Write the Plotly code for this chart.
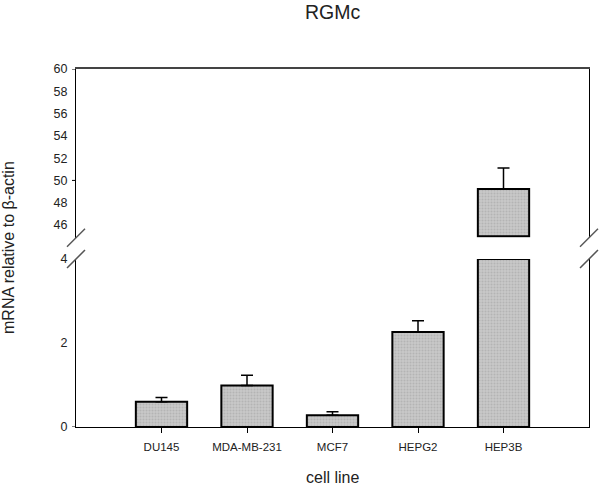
import plotly.graph_objects as go

# ---- data ----
cell_lines = ["DU145", "MDA-MB-231", "MCF7", "HEPG2", "HEP3B"]
mrna = [0.60, 0.99, 0.28, 2.26, 49.23]
sem = [0.10, 0.24, 0.085, 0.27, 1.88]

low_ticks = [0, 2, 4]
high_ticks = [46, 48, 50, 52, 54, 56, 58, 60]
low_marked_ticks = [0]
high_marked_ticks = [50, 60]
LOW_MAX = 4
HIGH_MIN = 45
HIGH_MAX = 60

# ---- derived split of the data across the broken axis ----
y_low = [min(v, LOW_MAX) for v in mrna]
err_low = [e if v <= LOW_MAX else 0 for v, e in zip(mrna, sem)]
y_high = [v - HIGH_MIN if v > HIGH_MIN else None for v in mrna]
err_high = [e if v > HIGH_MIN else 0 for v, e in zip(mrna, sem)]

FONT = "Liberation Sans, Arial, sans-serif"
W, H = 600, 486
ML, MR, MT, MB = 76, 11, 69, 59
PW, PH = W - ML - MR, H - MT - MB

low_dom = [0, 168 / PH]
high_dom = [(PH - 168.8) / PH, 1]

bar_style = dict(
    color="#c4c4c4",
    line=dict(color="black", width=2),
    pattern=dict(shape=".", fgcolor="#a0a0a0", bgcolor="#c8c8c8", size=3, solidity=0.35),
)

fig = go.Figure()
fig.add_trace(go.Bar(
    x=cell_lines, y=y_low, width=0.6, marker=bar_style,
    error_y=dict(type="data", array=err_low, arrayminus=[0] * len(err_low), symmetric=False,
                 color="black", thickness=1.5, width=6),
    xaxis="x", yaxis="y", showlegend=False,
))
fig.add_trace(go.Bar(
    x=cell_lines, y=y_high, base=HIGH_MIN, width=0.6, marker=bar_style,
    error_y=dict(type="data", array=err_high, arrayminus=[0] * len(err_high), symmetric=False,
                 color="black", thickness=1.5, width=6),
    xaxis="x2", yaxis="y2", showlegend=False,
))

axis_font = dict(family=FONT, size=12.5, color="#222")

fig.update_layout(
    width=W, height=H,
    margin=dict(l=ML, r=MR, t=MT, b=MB),
    paper_bgcolor="white", plot_bgcolor="white",
    font=dict(family=FONT, color="#222"),
    bargap=0.4,
    xaxis=dict(
        type="category", range=[-1, len(cell_lines)], anchor="y",
        showline=True, linecolor="black", linewidth=1,
        ticks="outside", ticklen=5, tickcolor="black", tickwidth=1,
        ticklabelstandoff=4,
        tickfont=dict(family=FONT, size=11.5, color="#222"),
        showgrid=False, zeroline=False,
    ),
    xaxis2=dict(
        type="category", range=[-1, len(cell_lines)], anchor="y2", matches="x",
        side="top", showline=True, linecolor="#444", linewidth=1.5,
        showticklabels=False, ticks="", showgrid=False, zeroline=False,
    ),
    yaxis=dict(
        domain=low_dom, range=[0, LOW_MAX], anchor="x",
        tickmode="array", tickvals=low_ticks,
        showline=True, mirror=True, linecolor="black", linewidth=1,
        ticks="outside", ticklen=5, tickcolor="rgba(0,0,0,0)",
        tickfont=axis_font, showgrid=False, zeroline=False,
    ),
    yaxis2=dict(
        domain=high_dom, range=[HIGH_MIN - 0.15, HIGH_MAX], anchor="x2",
        tickmode="array", tickvals=high_ticks,
        showline=True, mirror=True, linecolor="black", linewidth=1,
        ticks="outside", ticklen=5, tickcolor="rgba(0,0,0,0)",
        tickfont=axis_font, showgrid=False, zeroline=False,
    ),
)

shapes = []
# visible tick marks
for v in low_marked_ticks:
    shapes.append(dict(type="line", xref="paper", yref="y", x0=-4 / PW, x1=0, y0=v, y1=v,
                       line=dict(color="black", width=1)))
for v in high_marked_ticks:
    shapes.append(dict(type="line", xref="paper", yref="y2", x0=-4 / PW, x1=0, y0=v, y1=v,
                       line=dict(color="black", width=1)))
# axis break marks (left and right)
for xc in (0, 1):
    for yc in (high_dom[0], low_dom[1]):
        shapes.append(dict(type="line", xref="paper", yref="paper",
                           x0=xc - 9 / PW, x1=xc + 9 / PW,
                           y0=yc - 9 / PH, y1=yc + 9 / PH,
                           line=dict(color="#555", width=1.5)))
fig.update_layout(shapes=shapes)

fig.add_annotation(text="RGMc", xref="paper", yref="paper", x=0.5, y=1, yshift=57,
                   showarrow=False, yanchor="middle", font=dict(family=FONT, size=19.5, color="#222"))
fig.add_annotation(text="cell line", xref="paper", yref="paper", x=0.5, y=0, yshift=-50,
                   showarrow=False, yanchor="middle", font=dict(family=FONT, size=16, color="#222"))
fig.add_annotation(text="mRNA relative to β-actin", xref="paper", yref="paper",
                   x=(8 - ML) / PW, y=0.5, textangle=-90, showarrow=False,
                   xanchor="center", yanchor="middle", font=dict(family=FONT, size=16, color="#222"))

fig.write_html(
    "out.html",
    config={"displayModeBar": False},
    post_script="document.body.style.margin='0';document.body.style.overflow='hidden';",
)
